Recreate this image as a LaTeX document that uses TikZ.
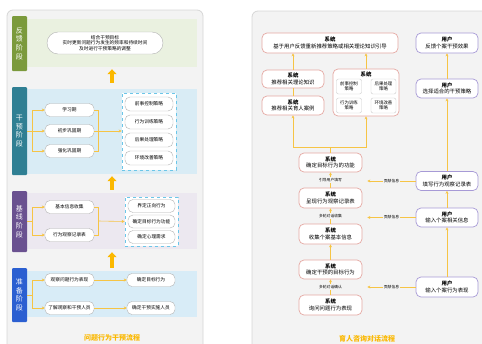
\documentclass[tikz,border=0pt]{standalone}
\usepackage{fontspec}
\setmainfont{Noto Sans CJK SC}
\usetikzlibrary{arrows.meta, calc}

\definecolor{panelfill}{HTML}{F3F3F3}
\definecolor{panelline}{HTML}{D6D6D6}
\definecolor{fbgreen}{HTML}{7B9A3C}
\definecolor{fbband}{HTML}{EAF1E0}
\definecolor{ivteal}{HTML}{2F7F93}
\definecolor{ivband}{HTML}{D9ECF5}
\definecolor{blpurple}{HTML}{6A5190}
\definecolor{blband}{HTML}{ECE8F0}
\definecolor{prblue}{HTML}{2B5FD1}
\definecolor{prband}{HTML}{D8ECF7}
\definecolor{flowyel}{HTML}{F6C445}
\definecolor{bigyel}{HTML}{FBB800}
\definecolor{dashcyan}{HTML}{6CC6E8}
\definecolor{sysline}{HTML}{E5A9A3}
\definecolor{userline}{HTML}{A79AD6}

\tikzset{
  panel/.style={draw=panelline, fill=panelfill, line width=0.8pt, rounded corners=6pt},
  band/.style={inner sep=0pt, minimum width=170pt},
  phasebar/.style={rounded corners=1pt, text=white, inner sep=0pt, minimum width=15pt,
    align=center, font=\fontsize{7}{8.6}\selectfont},
  stepbox/.style={draw=gray!60, fill=white, rounded corners=5pt, inner sep=0pt,
    minimum width=49pt, minimum height=13pt, line width=0.4pt},
  dashbox/.style={draw=dashcyan, dashed, fill=white, inner sep=0pt, line width=0.6pt},
  sysbox/.style={draw=sysline, fill=white, rounded corners=5pt, inner sep=0pt, line width=0.7pt,
    align=center, font=\fontsize{5.4}{6.6}\selectfont},
  userbox/.style={sysbox, draw=userline},
  smallbox/.style={draw=gray!40, fill=white, rounded corners=2pt, inner sep=0pt,
    minimum width=25pt, minimum height=15pt, align=center, font=\fontsize{4.4}{5.4}\selectfont},
  flow/.style={draw=flowyel, line width=0.6pt, -{Stealth[length=3pt,width=3pt]}},
  flowline/.style={draw=flowyel, line width=0.6pt},
  bigup/.style={draw=bigyel, line width=3.5pt, -{Triangle[length=5pt,width=9pt]}},
  tag/.style={fill=panelfill, inner sep=1pt, font=\fontsize{3.8}{4.6}\selectfont},
  title/.style={text=bigyel, font=\fontsize{7}{8}\selectfont\bfseries}
}

\begin{document}
\begin{tikzpicture}[x=1pt, y=-1pt, every node/.style={font=\fontsize{4.7}{5.6}\selectfont}]
    \useasboundingbox (0,0) rectangle (482,343);

    % Left panel: problem behaviour intervention
    \begin{scope}
        \draw[panel] (7,10) rectangle (203,350);

        % Feedback phase
        \node[band, fill=fbband, minimum height=48pt] (fband) at (112,43) {};
        \node[phasebar, fill=fbgreen, minimum height=55pt] (fbar) at (19.5,43.5) {反\\馈\\阶\\段};
        \node[stepbox, rounded corners=11pt, minimum width=116pt, minimum height=22pt, align=center] (f1) at (105,43)
            {结合干预目标\\实时更新问题行为发生的频率和持续时间\\及时进行干预策略的调整};

        % Intervention phase
        \node[band, fill=ivband, minimum height=85pt] (iband) at (112,131.5) {};
        \node[phasebar, fill=ivteal, minimum height=88pt] (ibar) at (19.5,131) {干\\预\\阶\\段};
        \node[stepbox] (i1) at (69.5,110) {学习期};
        \node[stepbox] (i2) at (69.5,131) {初步巩固期};
        \node[stepbox] (i3) at (69.5,151) {强化巩固期};
        \node[dashbox, minimum width=54pt, minimum height=77pt] (idash) at (149,131.5) {};
        \node[stepbox, minimum width=48pt, minimum height=14pt] (i4) at (149,104) {前事控制策略};
        \node[stepbox, minimum width=48pt, minimum height=14pt] (i5) at (149,122) {行为训练策略};
        \node[stepbox, minimum width=48pt, minimum height=14pt] (i6) at (149,140) {后果处理策略};
        \node[stepbox, minimum width=48pt, minimum height=14pt] (i7) at (149,158) {环境改善策略};

        \draw[flow] (ibar.east) -- ++(5,0) |- (i1.west);
        \draw[flow] (ibar.east) -- (i2.west);
        \draw[flow] (ibar.east) -- ++(5,0) |- (i3.west);
        \draw[flowline] (i1.east) -- ++(4,0) |- (i3.east);
        \draw[flowline] (i2.east) -- ++(4,0);
        \draw[flow] ([xshift=4pt]i2.east) -- (idash.west |- i2.east);

        % Baseline phase
        \node[band, fill=blband, minimum height=56pt] (bband) at (112,221) {};
        \node[phasebar, fill=blpurple, minimum height=61pt] (bbar) at (19.5,221.5) {基\\线\\阶\\段};
        \node[stepbox] (b1) at (69.5,207) {基本信息收集};
        \node[stepbox] (b2) at (69.5,235) {行为观察记录表};
        \node[dashbox, minimum width=53pt, minimum height=49pt] (bdash) at (151.5,221.5) {};
        \node[stepbox, minimum width=47pt] (b3) at (151.5,206) {界定正向行为};
        \node[stepbox, minimum width=47pt] (b4) at (151.5,221.5) {确定目标行为功能};
        \node[stepbox, minimum width=47pt] (b5) at (151.5,237) {确定心理需求};

        \draw[flow] (bbar.east) -- ++(5,0) |- (b1.west);
        \draw[flow] (bbar.east) -- ++(5,0) |- (b2.west);
        \draw[flowline] (b1.east) -- ++(4,0) |- (b2.east);
        \draw[flow] ($(b1.east)!0.5!(b2.east)+(4,0)$) -- (bdash.west);

        % Preparation phase
        \node[band, fill=prband, minimum height=46pt] (pband) at (112,294) {};
        \node[phasebar, fill=prblue, minimum height=54pt] (pbar) at (19.5,295) {准\\备\\阶\\段};
        \node[stepbox] (p1) at (69.5,280) {观察问题行为表现};
        \node[stepbox] (p2) at (69.5,308) {了解观察和干预人员};
        \node[stepbox, minimum width=48pt] (p3) at (151,280) {确定目标行为};
        \node[stepbox, minimum width=48pt] (p4) at (151,308) {确定干预实施人员};

        \draw[flow] (pbar.east) -- ++(5,0) |- (p1.west);
        \draw[flow] (pbar.east) -- ++(5,0) |- (p2.west);
        \draw[flow] (p1) -- (p3);
        \draw[flow] (p2) -- (p4);

        % Phase to phase
        \draw[bigup, shorten <=3pt, shorten >=3pt] (pband.north) -- (bband.south);
        \draw[bigup, shorten <=3pt, shorten >=2pt] (bband.north) -- (iband.south);
        \draw[bigup, shorten <=6pt, shorten >=2pt] (iband.north) -- (fband.south);

        \node[title] (ltitle) at (112,338) {问题行为干预流程};
    \end{scope}

    % Right panel: consultation dialogue
    \begin{scope}
        \draw[panel] (252,11) rectangle (490,350);

        % System side
        \node[sysbox, minimum width=136pt, minimum height=20pt] (stop) at (330,43)
            {\textbf{系统}\\基于用户反馈重新推荐策略或相关理论知识引导};
        \node[sysbox, minimum width=62pt, minimum height=18pt] (stheory) at (293,79)
            {\textbf{系统}\\推荐相关理论知识};
        \node[sysbox, minimum width=62pt, minimum height=19pt] (scase) at (293,105.5)
            {\textbf{系统}\\推荐相关育人案例};
        \node[sysbox, minimum width=66pt, minimum height=47pt] (sstrat) at (366,92.5) {};
        \node[font=\fontsize{5.4}{6.6}\selectfont\bfseries, inner sep=0pt] (sstratt) at (366,74) {系统};
        \node[smallbox] (st1) at (349,86.5) {前事控制\\策略};
        \node[smallbox] (st2) at (383.5,86.5) {后果处理\\策略};
        \node[smallbox] (st3) at (349,105.5) {行为训练\\策略};
        \node[smallbox] (st4) at (383.5,105.5) {环境改善\\策略};
        \node[sysbox, minimum width=63pt, minimum height=19pt] (sfunc) at (330.5,162.5)
            {\textbf{系统}\\确定目标行为的功能};
        \node[sysbox, minimum width=63pt, minimum height=20pt] (srec) at (330.5,198)
            {\textbf{系统}\\呈现行为观察记录表};
        \node[sysbox, minimum width=63pt, minimum height=20pt] (scollect) at (330.5,234)
            {\textbf{系统}\\收集个案基本信息};
        \node[sysbox, minimum width=63pt, minimum height=19pt] (starget) at (330.5,269.5)
            {\textbf{系统}\\确定干预的目标行为};
        \node[sysbox, minimum width=63pt, minimum height=20pt] (sask) at (330.5,305)
            {\textbf{系统}\\询问问题行为表现};

        % User side
        \node[userbox, minimum width=62pt, minimum height=20pt] (ufb) at (447,43)
            {\textbf{用户}\\反馈个案干预效果};
        \node[userbox, minimum width=62pt, minimum height=19pt] (uchoose) at (447,88.5)
            {\textbf{用户}\\选择适合的干预策略};
        \node[userbox, minimum width=62pt, minimum height=19pt] (urec) at (447,181)
            {\textbf{用户}\\填写行为观察记录表};
        \node[userbox, minimum width=62pt, minimum height=19pt] (uinfo) at (447,217.5)
            {\textbf{用户}\\输入个案相关信息};
        \node[userbox, minimum width=62pt, minimum height=20pt] (ubehav) at (447,287)
            {\textbf{用户}\\输入个案行为表现};

        % System flow
        \draw[flow] (sask) -- node[tag] (t3) {多轮对话确认} (starget);
        \draw[flow] (starget) -- (scollect);
        \draw[flow] (scollect) -- node[tag] (t2) {多轮对话收集} (srec);
        \draw[flow] (srec) -- node[tag] (t1) {引导用户填写} (sfunc);
        \draw[flow] (sfunc.north) -- ++(0,-5) -| (scase.south);
        \draw[flow] (sfunc.north) -- ++(0,-5) -| (sstrat.south);
        \draw[flowline] (stheory) -- (scase);
        \draw[flow] (stheory.north) -- (stheory.north |- stop.south);
        \draw[flow] (sstrat.north) -- (sstrat.north |- stop.south);

        % User flow
        \draw[flow] (ubehav) -- (uinfo);
        \draw[flow] (uinfo) -- (urec);
        \draw[flow] (urec) -- (uchoose);
        \draw[flow] (uchoose) -- (ufb);

        % Information handed over
        \draw[flow] (urec.west) -- node[tag] (c1) {贡献信息} ([xshift=5pt]sfunc.east |- urec.west);
        \draw[flow] (uinfo.west) -- node[tag] (c2) {贡献信息} ([xshift=5pt]sfunc.east |- uinfo.west);
        \draw[flow] (ubehav.west) -- node[tag] (c3) {贡献信息} ([xshift=5pt]sfunc.east |- ubehav.west);

        \node[title] (rtitle) at (367,339) {育人咨询对话流程};
    \end{scope}

\end{tikzpicture}
\end{document}
